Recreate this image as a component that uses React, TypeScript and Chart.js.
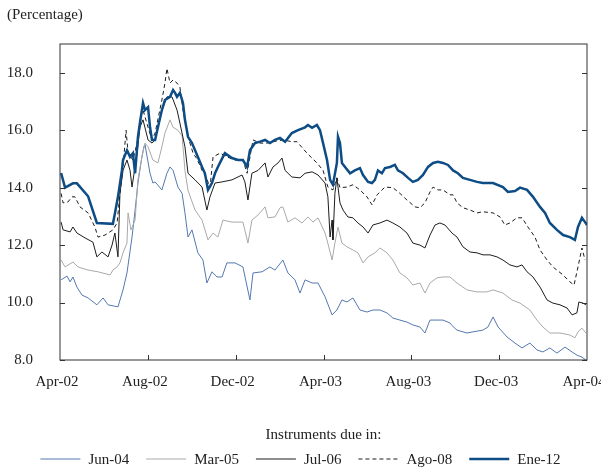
import { useEffect, useRef } from "react"
import { Chart, registerables } from "chart.js"

Chart.register(...registerables)

const FONT = "'Liberation Serif', 'Times New Roman', serif"
const TEXT = "#222"

// x values are months counted from Apr-02 (0) to Apr-04 (24)
const xTickValues = [0, 4, 8, 12, 16, 20, 24]
const xTickLabels = ["Apr-02", "Aug-02", "Dec-02", "Apr-03", "Aug-03", "Dec-03", "Apr-04"]
const yTickValues = [8, 10, 12, 14, 16, 18]

const seriesNames = ["Jun-04", "Mar-05", "Jul-06", "Ago-08", "Ene-12"]
const legendTitle = "Instruments due in:"

const jun04: [number, number][] = [
  [0.05, 10.79], [0.32, 10.92], [0.46, 10.72], [0.59, 10.89], [0.77, 10.54], [1.0, 10.26], [1.28, 10.16],
  [1.68, 9.92], [1.96, 10.16], [2.19, 9.92], [2.64, 9.85], [2.87, 10.44], [3.05, 11.03], [3.28, 12.28],
  [3.42, 13.22], [3.55, 14.16], [3.73, 15.07], [3.83, 15.45], [3.87, 15.5], [4.1, 14.5], [4.23, 14.16],
  [4.33, 14.2], [4.64, 13.92], [4.87, 14.5], [5.01, 14.72], [5.15, 14.6], [5.37, 14.02], [5.56, 13.8],
  [5.69, 13.12], [5.83, 12.28], [6.01, 12.53], [6.28, 11.73], [6.51, 11.48], [6.69, 10.68], [6.92, 11.07],
  [7.15, 10.89], [7.38, 10.89], [7.6, 11.38], [7.97, 11.38], [8.33, 11.24], [8.65, 10.09], [8.79, 11.03],
  [9.2, 11.07], [9.56, 11.24], [9.79, 11.13], [10.15, 11.48], [10.38, 11.03], [10.7, 10.79], [10.93, 10.33],
  [11.16, 10.79], [11.48, 10.68], [11.75, 10.68], [12.07, 10.2], [12.39, 9.57], [12.61, 9.74], [12.84, 10.09],
  [13.07, 10.02], [13.34, 10.16], [13.66, 9.74], [13.98, 9.67], [14.25, 9.74], [14.57, 9.74], [14.89, 9.64],
  [15.16, 9.46], [15.48, 9.39], [15.8, 9.32], [16.07, 9.22], [16.39, 9.15], [16.62, 8.94], [16.85, 9.39],
  [17.17, 9.39], [17.44, 9.39], [17.76, 9.29], [17.85, 9.2], [18.08, 9.04], [18.53, 8.94], [18.81, 8.98],
  [19.26, 9.04], [19.49, 9.15], [19.72, 9.5], [19.95, 9.15], [20.36, 8.8], [20.72, 8.59], [21.04, 8.42],
  [21.4, 8.59], [21.72, 8.35], [21.99, 8.28], [22.31, 8.42], [22.63, 8.24], [23.0, 8.45], [23.32, 8.28],
  [23.54, 8.17], [23.77, 8.1], [23.95, 8.0],
]

const mar05: [number, number][] = [
  [0.05, 11.48], [0.23, 11.24], [0.59, 11.41], [0.82, 11.24], [1.28, 11.13], [1.73, 11.07], [2.28, 10.96],
  [2.41, 11.13], [2.6, 11.24], [2.73, 11.38], [2.87, 11.73], [3.05, 12.07], [3.1, 13.12], [3.23, 12.53],
  [3.42, 12.87], [3.55, 14.27], [3.73, 15.07], [3.87, 15.55], [4.01, 15.42], [4.23, 14.96], [4.46, 14.86],
  [4.64, 15.42], [4.78, 15.9], [5.01, 16.36], [5.15, 16.1], [5.37, 16.0], [5.56, 15.8], [5.69, 14.6],
  [5.83, 13.9], [6.15, 13.22], [6.47, 12.87], [6.74, 12.18], [6.97, 12.42], [7.19, 12.28], [7.42, 12.87],
  [7.83, 12.8], [8.33, 12.8], [8.56, 12.07], [8.74, 12.87], [9.02, 13.05], [9.34, 13.33], [9.47, 12.95],
  [9.79, 12.98], [10.02, 13.3], [10.15, 13.33], [10.38, 12.8], [10.7, 12.95], [11.02, 12.77], [11.29, 12.98],
  [11.52, 12.8], [11.75, 12.95], [12.07, 12.42], [12.16, 12.18], [12.39, 11.48], [12.52, 12.07], [12.66, 12.63],
  [12.84, 12.07], [13.07, 11.94], [13.34, 11.83], [13.57, 11.73], [13.8, 11.38], [14.03, 11.59], [14.34, 11.73],
  [14.57, 11.9], [14.89, 11.73], [15.16, 11.48], [15.48, 11.03], [15.8, 10.86], [16.07, 10.61], [16.39, 10.68],
  [16.62, 10.33], [16.85, 10.68], [17.17, 10.86], [17.44, 10.89], [17.76, 10.89], [18.08, 10.68], [18.53, 10.44],
  [18.99, 10.37], [19.44, 10.37], [19.72, 10.44], [20.17, 10.33], [20.58, 10.09], [20.95, 9.98], [21.4, 9.74],
  [21.72, 9.39], [21.99, 9.15], [22.31, 8.94], [22.77, 8.94], [23.22, 8.87], [23.45, 8.77], [23.59, 8.98],
  [23.77, 9.11], [23.95, 8.94],
]

const jul06: [number, number][] = [
  [0.05, 12.8], [0.14, 12.53], [0.46, 12.46], [0.59, 12.63], [0.77, 12.42], [1.14, 12.25], [1.5, 12.1],
  [1.68, 11.59], [1.91, 11.76], [2.19, 11.59], [2.37, 12.0], [2.5, 12.42], [2.64, 11.59], [2.73, 13.8],
  [2.87, 14.6], [3.05, 14.96], [3.19, 14.6], [3.28, 14.02], [3.51, 15.2], [3.64, 16.1], [3.78, 16.36],
  [4.01, 15.66], [4.19, 15.55], [4.33, 15.66], [4.64, 16.7], [4.87, 17.16], [5.1, 17.16], [5.33, 16.7],
  [5.46, 16.25], [5.69, 15.42], [5.83, 14.5], [6.01, 14.37], [6.15, 14.27], [6.47, 14.02], [6.69, 13.22],
  [6.83, 13.68], [7.06, 14.16], [7.38, 14.2], [7.83, 14.27], [8.29, 14.44], [8.42, 14.2], [8.56, 13.57],
  [8.74, 14.5], [9.02, 14.6], [9.34, 14.86], [9.47, 14.37], [9.7, 14.72], [9.93, 14.86], [10.11, 15.03],
  [10.25, 14.6], [10.56, 14.37], [10.93, 14.34], [11.16, 14.5], [11.48, 14.55], [11.75, 14.44], [12.07, 14.16],
  [12.2, 13.68], [12.3, 12.28], [12.39, 12.87], [12.43, 12.18], [12.52, 13.8], [12.61, 14.34], [12.66, 14.02],
  [12.75, 13.47], [12.89, 13.22], [13.11, 12.98], [13.34, 12.95], [13.57, 12.77], [13.8, 12.63], [14.03, 12.42],
  [14.25, 12.7], [14.57, 12.77], [14.89, 12.87], [15.16, 12.77], [15.48, 12.63], [15.8, 12.42], [16.07, 12.07],
  [16.39, 12.0], [16.62, 11.9], [16.85, 12.35], [17.08, 12.7], [17.3, 12.77], [17.53, 12.7], [17.85, 12.42],
  [18.08, 12.28], [18.35, 11.94], [18.67, 11.76], [18.99, 11.73], [19.26, 11.66], [19.58, 11.66], [19.9, 11.59],
  [20.17, 11.48], [20.49, 11.31], [20.81, 11.24], [21.04, 11.31], [21.27, 11.07], [21.54, 10.89], [21.86, 10.54],
  [22.18, 10.09], [22.45, 9.98], [22.77, 9.92], [23.09, 9.81], [23.32, 9.57], [23.54, 9.64], [23.63, 10.02],
  [23.82, 9.98], [23.95, 9.92],
]

const ago08: [number, number][] = [
  [0.05, 13.8], [0.14, 13.47], [0.36, 13.5], [0.55, 13.68], [0.68, 13.68], [0.91, 13.33], [1.28, 13.12],
  [1.59, 12.63], [1.73, 12.28], [2.05, 12.35], [2.41, 12.53], [2.6, 12.77], [2.73, 13.8], [2.87, 14.72],
  [3.01, 16.0], [3.1, 15.2], [3.32, 14.96], [3.51, 15.55], [3.64, 16.36], [3.78, 16.7], [4.01, 16.1],
  [4.19, 15.66], [4.33, 15.9], [4.64, 17.05], [4.78, 17.64], [4.87, 18.15], [5.01, 17.64], [5.15, 17.75],
  [5.33, 17.64], [5.46, 17.5], [5.6, 16.7], [5.83, 15.77], [6.06, 15.2], [6.24, 15.0], [6.47, 14.6],
  [6.69, 14.3], [6.83, 14.0], [6.97, 15.07], [7.29, 15.2], [7.6, 15.07], [7.97, 14.96], [8.33, 14.96],
  [8.52, 14.5], [8.79, 15.66], [9.11, 15.55], [9.43, 15.55], [9.7, 15.6], [10.15, 15.66], [10.56, 15.6],
  [10.79, 15.6], [11.25, 15.2], [11.7, 14.86], [11.98, 14.6], [12.2, 14.02], [12.43, 13.92], [12.61, 14.34],
  [12.75, 14.0], [13.07, 14.02], [13.34, 14.1], [13.66, 13.92], [13.98, 13.68], [14.21, 13.4], [14.44, 13.75],
  [14.8, 14.02], [15.16, 14.0], [15.48, 13.8], [15.8, 13.57], [16.17, 13.33], [16.39, 13.3], [16.62, 13.47],
  [16.85, 13.85], [16.99, 14.02], [17.21, 13.92], [17.44, 13.92], [17.76, 13.75], [17.9, 13.75], [18.08, 13.47],
  [18.35, 13.3], [18.67, 13.22], [18.99, 13.12], [19.26, 13.16], [19.72, 13.12], [20.04, 12.98], [20.26, 12.7],
  [20.49, 12.77], [20.81, 12.95], [21.04, 12.95], [21.31, 12.63], [21.63, 12.28], [21.86, 11.83], [22.18, 11.48],
  [22.45, 11.24], [22.91, 10.96], [23.22, 10.72], [23.41, 10.61], [23.59, 11.24], [23.77, 11.9], [23.91, 11.48],
]

const ene12: [number, number][] = [
  [0.05, 14.51], [0.23, 14.0], [0.59, 14.15], [0.77, 14.15], [1.28, 13.7], [1.68, 12.77], [2.41, 12.74],
  [2.5, 13.1], [2.64, 13.68], [2.82, 14.6], [2.87, 14.96], [3.05, 15.3], [3.19, 15.07], [3.32, 15.2],
  [3.42, 14.5], [3.55, 15.77], [3.64, 16.25], [3.78, 16.95], [3.87, 16.7], [4.01, 16.8], [4.1, 16.1],
  [4.19, 15.66], [4.33, 15.66], [4.46, 16.1], [4.64, 16.7], [4.78, 17.05], [5.01, 17.16], [5.15, 17.4],
  [5.24, 17.3], [5.33, 17.16], [5.46, 17.3], [5.6, 16.95], [5.69, 16.36], [5.83, 15.77], [6.01, 15.55],
  [6.15, 15.3], [6.28, 15.07], [6.47, 14.72], [6.6, 14.5], [6.74, 13.92], [6.92, 14.16], [7.06, 14.5],
  [7.19, 14.72], [7.42, 15.07], [7.51, 15.2], [7.83, 15.03], [8.11, 14.96], [8.33, 14.96], [8.52, 14.72],
  [8.65, 15.3], [8.88, 15.55], [9.11, 15.6], [9.34, 15.66], [9.56, 15.55], [9.79, 15.66], [10.02, 15.73],
  [10.25, 15.6], [10.56, 15.9], [10.84, 16.0], [11.16, 16.1], [11.29, 16.18], [11.48, 16.08], [11.7, 16.18],
  [11.84, 16.0], [11.98, 15.55], [12.16, 14.96], [12.3, 14.27], [12.43, 14.1], [12.61, 14.86], [12.66, 15.77],
  [12.75, 15.55], [12.84, 14.86], [12.98, 14.72], [13.21, 14.5], [13.43, 14.6], [13.66, 14.68], [13.8, 14.44],
  [14.03, 14.2], [14.21, 14.16], [14.34, 14.27], [14.48, 14.6], [14.66, 14.5], [14.8, 14.68], [15.03, 14.72],
  [15.25, 14.79], [15.39, 14.6], [15.62, 14.5], [15.85, 14.34], [16.07, 14.2], [16.3, 14.27], [16.53, 14.44],
  [16.76, 14.72], [16.99, 14.86], [17.21, 14.9], [17.44, 14.86], [17.67, 14.79], [17.9, 14.6], [18.12, 14.5],
  [18.35, 14.34], [18.67, 14.27], [18.99, 14.2], [19.26, 14.16], [19.72, 14.16], [20.17, 14.02], [20.4, 13.85],
  [20.72, 13.88], [20.95, 14.0], [21.27, 13.92], [21.54, 13.68], [21.86, 13.33], [22.09, 13.12], [22.31, 12.77],
  [22.63, 12.53], [22.91, 12.35], [23.22, 12.28], [23.45, 12.18], [23.59, 12.63], [23.77, 12.95], [23.91, 12.8],
  [24.0, 12.7],
]

const toPoints = (rows: [number, number][]) => rows.map(([x, y]) => ({ x, y }))

// box around the plot with inward tick marks
const framePlugin = {
  id: "frame",
  afterDatasetsDraw(chart: any) {
    const { ctx, chartArea } = chart
    const { left, right, top, bottom } = chartArea
    const yScale = chart.scales.y
    const xScale = chart.scales.x
    ctx.save()
    ctx.strokeStyle = "#333"
    ctx.lineWidth = 1
    ctx.strokeRect(left, top, right - left, bottom - top)
    ctx.beginPath()
    yTickValues.forEach((v) => {
      const y = Math.round(yScale.getPixelForValue(v)) + 0.5
      ctx.moveTo(left, y)
      ctx.lineTo(left + 5, y)
      ctx.moveTo(right, y)
      ctx.lineTo(right - 5, y)
    })
    xTickValues.slice(1, -1).forEach((v) => {
      const x = Math.round(xScale.getPixelForValue(v)) + 0.5
      ctx.moveTo(x, bottom)
      ctx.lineTo(x, bottom - 5)
    })
    ctx.stroke()
    ctx.restore()
  },
}

// legend below the chart: title over the plot, row centred on the canvas
const legendPlugin = {
  id: "bottomLegend",
  afterDraw(chart: any) {
    const { ctx, chartArea, width } = chart
    const sample = 40
    const gap = 8
    const itemGap = 17
    const rowY = 459
    ctx.save()
    ctx.font = `15px ${FONT}`
    ctx.fillStyle = TEXT
    ctx.textBaseline = "middle"
    ctx.textAlign = "center"
    ctx.fillText(legendTitle, (chartArea.left + chartArea.right) / 2, 435)

    const items = chart.data.datasets.map((ds: any) => ({ ds, w: ctx.measureText(ds.label).width }))
    const total =
      items.reduce((s: number, it: any) => s + sample + gap + it.w, 0) + itemGap * (items.length - 1)
    let x = width / 2 - total / 2
    ctx.textAlign = "left"
    items.forEach(({ ds, w }: any) => {
      ctx.beginPath()
      ctx.strokeStyle = ds.borderColor
      ctx.lineWidth = ds.borderWidth
      ctx.setLineDash(ds.borderDash || [])
      ctx.moveTo(x, rowY)
      ctx.lineTo(x + sample, rowY)
      ctx.stroke()
      ctx.setLineDash([])
      ctx.fillText(ds.label, x + sample + gap, rowY + 1)
      x += sample + gap + w + itemGap
    })
    ctx.restore()
  },
}

export default function App() {
  const canvasRef = useRef<HTMLCanvasElement>(null)

  useEffect(() => {
    if (!canvasRef.current) return
    const ctx = canvasRef.current.getContext("2d")
    if (!ctx) return

    const line = (i: number, rows: [number, number][], color: string, width: number, order: number, dash?: number[]) => ({
      label: seriesNames[i],
      data: toPoints(rows),
      borderColor: color,
      backgroundColor: color,
      borderWidth: width,
      borderDash: dash,
      pointRadius: 0,
      tension: 0,
      order,
    })

    const chart = new Chart(ctx, {
      type: "line",
      data: {
        datasets: [
          line(0, jun04, "#5478b0", 1, 4),
          line(1, mar05, "#a9a9a9", 1, 3),
          line(2, jul06, "#1c1c1c", 1, 2),
          line(3, ago08, "#1c1c1c", 1, 1, [4, 3]),
          line(4, ene12, "#0d4c84", 2.5, 0),
        ],
      },
      options: {
        responsive: true,
        maintainAspectRatio: false,
        animation: false,
        events: [],
        layout: { padding: { left: 7, right: 14, top: 0, bottom: 64 } },
        plugins: {
          legend: { display: false },
          tooltip: { enabled: false },
          title: {
            display: true,
            text: "(Percentage)",
            align: "start",
            color: TEXT,
            font: { family: FONT, size: 15, weight: "normal" },
            padding: { top: 6, bottom: 20 },
          },
        },
        scales: {
          x: {
            type: "linear",
            min: 0,
            max: 24,
            grid: { display: false, drawTicks: false },
            border: { display: false },
            afterBuildTicks: (axis: any) => {
              axis.ticks = xTickValues.map((value) => ({ value }))
            },
            afterFit: (axis: any) => {
              axis.paddingLeft = 0
              axis.paddingRight = 0
            },
            ticks: {
              autoSkip: false,
              maxRotation: 0,
              padding: 13,
              labelOffset: -3,
              color: TEXT,
              font: { family: FONT, size: 15 },
              callback: (value: any) => xTickLabels[xTickValues.indexOf(Number(value))] ?? "",
            },
          },
          y: {
            min: 8,
            max: 19,
            grid: { display: false, drawTicks: false },
            border: { display: false },
            afterBuildTicks: (axis: any) => {
              axis.ticks = yTickValues.map((value) => ({ value }))
            },
            afterFit: (axis: any) => {
              axis.width = 53
            },
            ticks: {
              padding: 27,
              color: TEXT,
              font: { family: FONT, size: 15 },
              callback: (value: any) => Number(value).toFixed(1),
            },
          },
        },
      },
      plugins: [framePlugin, legendPlugin],
    })

    return () => {
      chart.destroy()
    }
  }, [])

  return (
    <div style={{ position: "fixed", left: 0, top: 0, width: 601, height: 468, background: "#fff" }}>
      <canvas ref={canvasRef} />
    </div>
  )
}
